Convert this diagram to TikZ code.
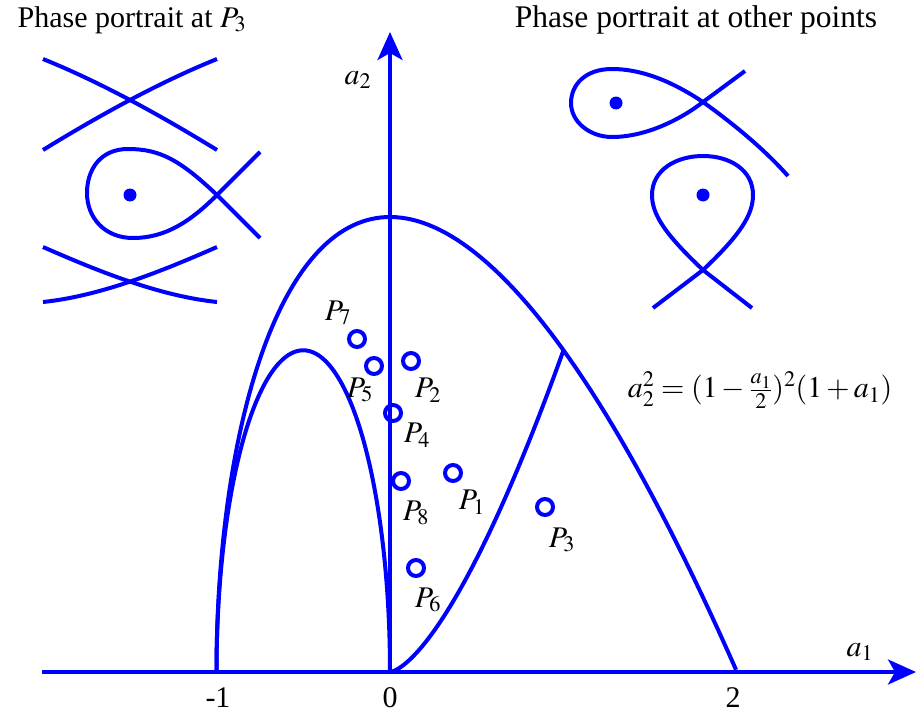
\documentclass[tikz,border=0pt]{standalone}
\usepackage{mathptmx}
\usepackage[no-math]{fontspec}
\setmainfont{Liberation Serif}
\usetikzlibrary{arrows.meta}
\begin{document}
\begin{tikzpicture}[x=1pt,y=-1pt,
  curve/.style={draw=blue,line width=4pt},
  axis/.style={draw=blue,line width=3.6pt,-{Stealth[length=28pt,width=25pt,inset=7pt]}},
  lab/.style={font=\fontsize{30}{36}\selectfont,inner sep=0pt,text=black},
  ring/.style={circle,draw=blue,line width=4pt,minimum size=16pt,inner sep=0pt},
  dotc/.style={circle,fill=blue,minimum size=13pt,inner sep=0pt}]
\useasboundingbox (0,0) rectangle (918,717);
% axes
\coordinate (xs) at (42,672);
\coordinate (xe) at (916,672);
\coordinate (o) at (390,672);
\coordinate (ye) at (390,32);
\draw[axis] (xs) -- (xe);
\draw[axis] (o) -- (ye);
% curves
\begin{scope}[shift={(390,672)},x=173.5pt,y=455pt]
\draw[curve] plot[domain=0:1.7320508,samples=120,variable=\t] ({-1+\t*\t},{(1.5-0.5*\t*\t)*\t});
\draw[curve] plot[domain=0:180,samples=120,variable=\t] ({-(1+cos(\t))/2},{0.70711*sin(\t)});
\draw[curve] plot[domain=0:1,samples=80,variable=\t] ({\t*\t},{0.70711*\t*\t*\t});
\end{scope}
% axis labels
\node[lab] (a1) at (860,652) {$a_1$};
\node[lab] (a2) at (358,80) {$a_2$};
\node[lab] (tm1) at (218,698) {-1};
\node[lab] (t0) at (390,698) {0};
\node[lab] (t2) at (733,698) {2};
\node[lab] (eq) at (760,390) {$a_2^2 = (1-\frac{a_1}{2})^2(1+a_1)$};
% points
\node[ring] (p7) at (357,339) {};
\node[ring] (p5) at (374,366) {};
\node[ring] (p2) at (411,361) {};
\node[ring] (p4) at (393,413) {};
\node[ring] (p8) at (401,481) {};
\node[ring] (p1) at (453,473) {};
\node[ring] (p3) at (545,507) {};
\node[ring] (p6) at (416,568) {};
\node[lab] (l7) at (338,313) {$P_7$};
\node[lab] (l5) at (360,390) {$P_5$};
\node[lab] (l2) at (428,390) {$P_2$};
\node[lab] (l4) at (417,435) {$P_4$};
\node[lab] (l8) at (416,513) {$P_8$};
\node[lab] (l1) at (472,502) {$P_1$};
\node[lab] (l3) at (562,540) {$P_3$};
\node[lab] (l6) at (428,600) {$P_6$};
% titles
\node[lab] (tl) at (132,20) {Phase portrait at $P_3$};
\node[lab,font=\fontsize{31.5}{36}\selectfont] (tr) at (696,20) {Phase portrait at other points};
% left phase portrait
\draw[curve] (43,59) .. controls (100,82) and (160,115) .. (217,150);
\draw[curve] (43,150) .. controls (100,115) and (160,82) .. (217,59);
\draw[curve] (43,247) .. controls (100,272) and (160,296) .. (217,302);
\draw[curve] (43,302) .. controls (100,296) and (160,272) .. (217,247);
\draw[curve] (260,238) -- (217,195) .. controls (180,160) and (160,149) .. (128,149)
  .. controls (100,149) and (87,170) .. (87,193)
  .. controls (87,218) and (105,238) .. (133,238)
  .. controls (165,238) and (190,222) .. (217,195) -- (260,152);
\node[dotc] (d1) at (130,195) {};
% right phase portraits
\draw[curve] (745,71) -- (703,102) .. controls (680,120) and (645,137) .. (612,137)
  .. controls (590,137) and (571,122) .. (571,103)
  .. controls (571,85) and (585,69) .. (612,69)
  .. controls (640,69) and (670,80) .. (703,102)
  .. controls (735,125) and (765,150) .. (788,176);
\node[dotc] (d2) at (616,103) {};
\draw[curve] (653,308) -- (703,270) .. controls (740,235) and (753,215) .. (753,195)
  .. controls (753,170) and (730,156) .. (703,156)
  .. controls (676,156) and (652,170) .. (652,195)
  .. controls (652,215) and (666,235) .. (703,270) -- (752,308);
\node[dotc] (d3) at (703,195) {};
\end{tikzpicture}
\end{document}
